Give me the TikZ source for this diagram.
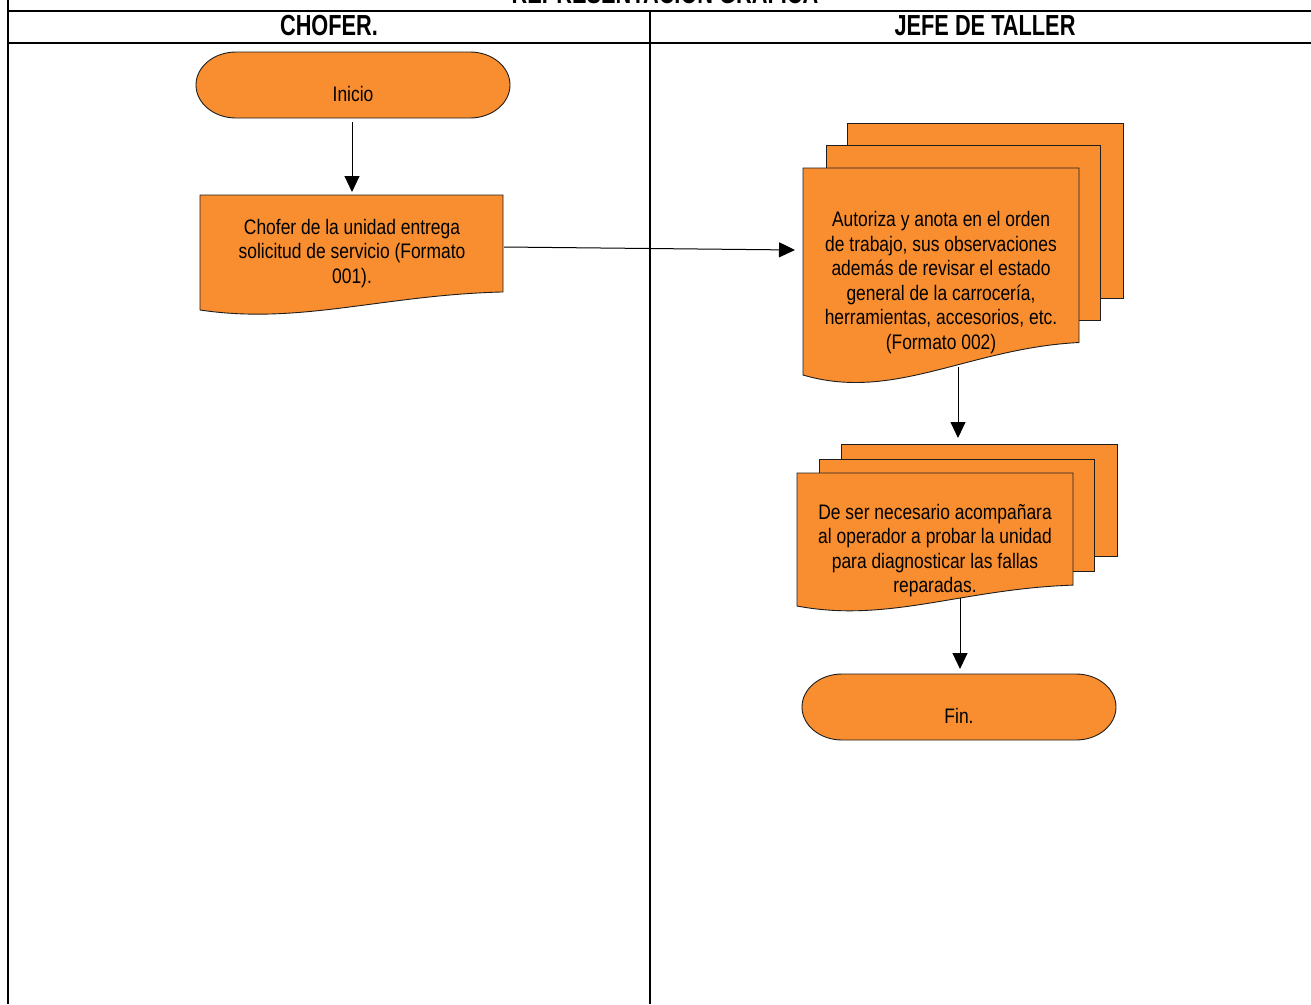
\documentclass[tikz,border=0pt]{standalone}
\usepackage{fontspec}
\setmainfont{Liberation Sans}[FakeStretch=0.83]
\newfontfamily\hdfont{Liberation Sans}[FakeStretch=0.75]
\usetikzlibrary{arrows.meta}
\definecolor{fillor}{RGB}{248,142,48}
\definecolor{edge}{RGB}{30,30,30}
\tikzset{
  frame/.style={line width=2pt,black},
  docst/.style={draw=edge,fill=fillor,line width=0.9pt},
  termst/.style={draw=edge,fill=fillor,line width=0.9pt},
  txt/.style={inner sep=0pt,align=center,font=\fontsize{21}{24.6}\selectfont,text=black},
  hdr/.style={inner sep=0pt,anchor=base,font=\hdfont\bfseries\fontsize{29}{32}\selectfont},
  flow/.style={line width=1pt,-{Triangle[length=16pt,width=15pt]}}
}
\newcommand\mydoc[4]{%
  \pgfmathsetmacro\hh{#4-#2}%
  \pgfmathsetmacro\ww{#3-#1}%
  \draw[docst] (#1,#2) -- (#3,#2) -- (#3,{#4-0.157*\hh})
    .. controls ({#1+0.6*\ww},{#4-0.13*\hh}) and ({#1+0.33*\ww},{#4+0.13*\hh}) .. (#1,#4) -- cycle;}
% terminator: L T R B, end half-width a
\newcommand\myterm[5]{%
  \pgfmathsetmacro\rr{(#4-#2)/2}%
  \draw[termst] ({#1+#5},#2) -- ({#3-#5},#2)
    arc[start angle=-90,end angle=90,x radius=#5,y radius=\rr]
    -- ({#1+#5},#4)
    arc[start angle=90,end angle=270,x radius=#5,y radius=\rr] -- cycle;}
\begin{document}
\begin{tikzpicture}[x=1pt,y=-1pt]
\useasboundingbox (0,0) rectangle (1311,1004);
\fill[white] (0,0) rectangle (1311,1004);
% frame
\draw[frame] (8,0) -- (8,1004);
\draw[frame] (8,11) -- (1311,11);
\draw[frame] (8,43) -- (1311,43);
\draw[frame] (650,11) -- (650,1004);
\node[hdr] (title) at (665,3.5) {REPRESENTACIÓN GRÁFICA};
\node[hdr] (h1) at (329,35.5) {CHOFER.};
\node[hdr] (h2) at (985,35.5) {JEFE DE TALLER};
% Inicio
\myterm{196}{52}{510}{118}{40}
\node[txt] (inicio) at (353,94) {Inicio};
\coordinate (inicioS) at (352,122);
% doc 1
\mydoc{200}{195}{503}{310}
\node[txt] (doc1) at (352,253.5) {Chofer de la unidad entrega\\solicitud de servicio (Formato\\001).};
\coordinate (doc1N) at (352,192);
\coordinate (doc1E) at (504,247);
% multi doc 1
\draw[docst] (847,123) rectangle (1123,298);
\draw[docst] (826,145) rectangle (1100,320);
\mydoc{803}{168}{1079}{375}
\node[txt] (md1) at (941,282.5) {Autoriza y anota en el orden\\de trabajo, sus observaciones\\además de revisar el estado\\general de la carrocería,\\herramientas, accesorios, etc.\\(Formato 002)};
\coordinate (md1W) at (795,250);
\coordinate (md1S) at (958,367);
% multi doc 2
\draw[docst] (841,444) rectangle (1117,556);
\draw[docst] (819,459) rectangle (1094,571);
\mydoc{797}{473}{1073}{606}
\node[txt] (md2) at (935,550.5) {De ser necesario acompañara\\al operador a probar la unidad\\para diagnosticar las fallas\\reparadas.};
\coordinate (md2N) at (958,438);
\coordinate (md2S) at (960,598);
% Fin
\myterm{802}{674}{1116}{740}{40}
\node[txt] (fin) at (959,716) {Fin.};
\coordinate (finN) at (960,669);
% connectors
\draw[flow] (inicioS) -- (doc1N);
\draw[flow] (doc1E) -- (md1W);
\draw[flow] (md1S) -- (md2N);
\draw[flow] (md2S) -- (finN);
\end{tikzpicture}
\end{document}
